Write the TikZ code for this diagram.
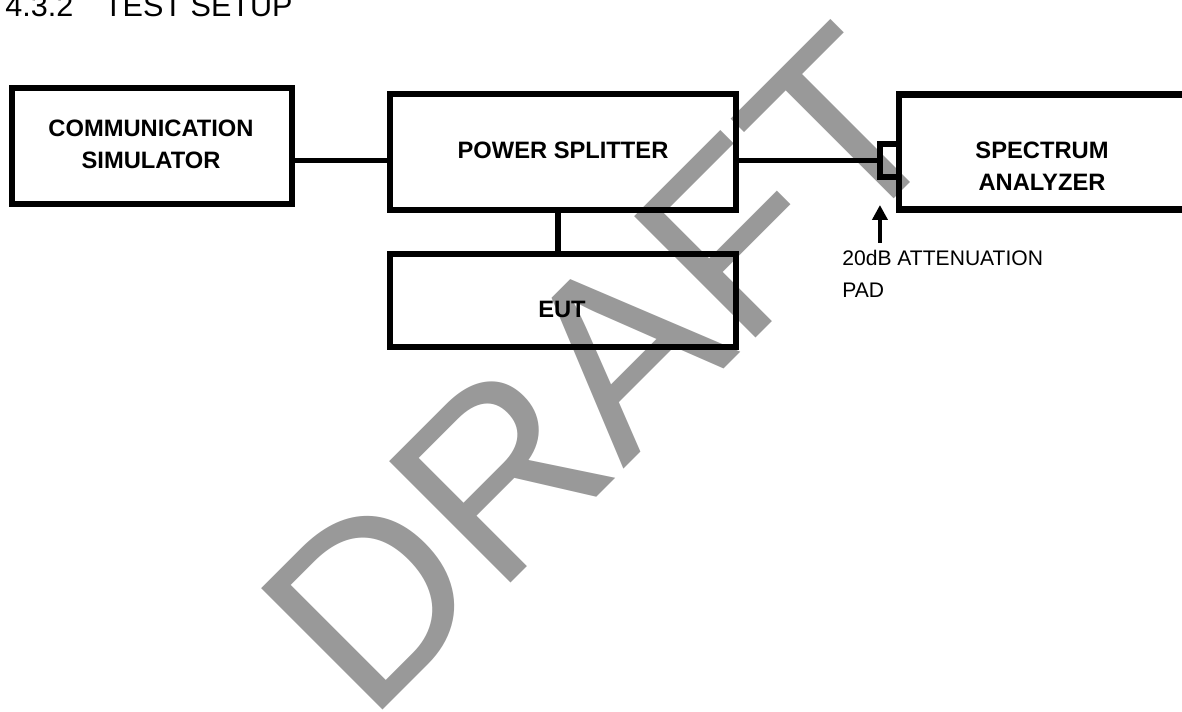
\documentclass[tikz,border=0pt]{standalone}
\usepackage{fontspec}
\setmainfont{Liberation Sans}
\usetikzlibrary{arrows.meta}

\tikzset{
  unit/.style={draw, rectangle, line width=3.6pt, inner sep=0pt, outer sep=0pt},
  unitname/.style={font=\bfseries\fontsize{13.5}{18.4}\selectfont, align=center, inner sep=0pt},
  note/.style={font=\fontsize{12}{18.2}\selectfont, align=left, inner sep=0pt},
  wire/.style={line width=3.2pt},
  pointer/.style={line width=2.7pt, -{Triangle[length=8.5pt, width=8.5pt]}},
  watermark/.style={font=\fontsize{142}{142}\selectfont, text=black!40, rotate=45, inner sep=0pt},
}

\begin{document}
\begin{tikzpicture}[x=0.02cm, y=-0.02cm]
    \path[use as bounding box, fill=white] (0,0) rectangle (1182,712);

    \node[watermark] (draft) at (602,370) {DRAFT};

    \node[anchor=base west, inner sep=0pt, font=\fontsize{17.4}{20}\selectfont] (title) at (5,17) {4.3.2\hspace{17.5pt}TEST SETUP};

    % boxes
    \node[unit, minimum width=5.61cm, minimum height=2.33cm] (comm) at (152,146) {};
    \node[unit, minimum width=6.92cm, minimum height=2.32cm] (ps) at (563,152) {};
    \node[unit, minimum width=6.92cm, minimum height=1.86cm, below of=ps, node distance=2.97cm] (eut) {};
    \node[unit, minimum width=5.72cm, minimum height=2.3cm, right of=ps, node distance=9.58cm] (sa) {};
    \node[unit, minimum width=0.38cm, minimum height=0.66cm, anchor=east] (pad) at (sa.west |- 0,160.5) {};

    \node[unitname] (commname) at (151,144.5) {COMMUNICATION\\SIMULATOR};
    \node[unitname] (psname) at (563,150) {POWER SPLITTER};
    \node[unitname] (eutname) at (562,309) {EUT};
    \node[unitname] (saname) at (1042,166) {SPECTRUM\\ANALYZER};

    % cabling
    \draw[wire] (comm.east |- pad.west) -- (ps.west |- pad.west);
    \draw[wire] (ps.east |- pad.west) -- (pad.west);
    \draw[wire] ([xshift=-0.1cm]ps.south) -- ([xshift=-0.1cm]eut.north);

    \coordinate (padtail) at ([yshift=-1.32cm]pad.south west);
    \draw[pointer] (padtail) -- ([yshift=-0.56cm]pad.south west);
    \node[note, anchor=west] (padnote) at (842,274) {20dB ATTENUATION\\PAD};
\end{tikzpicture}
\end{document}
